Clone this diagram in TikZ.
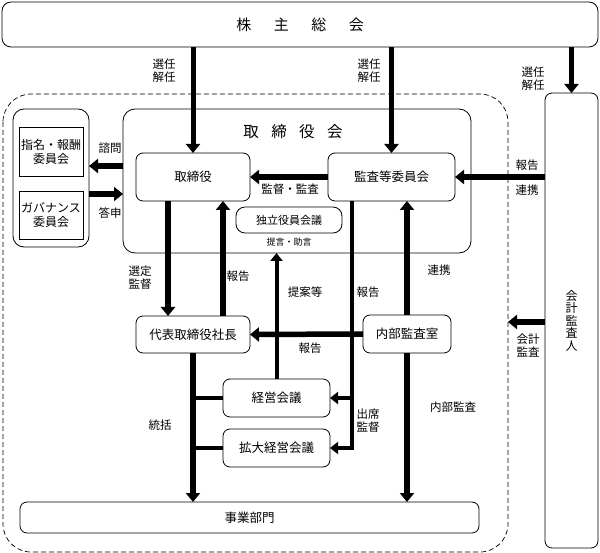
\documentclass[tikz,border=0pt]{standalone}
\usepackage{fontspec}
\setmainfont{Noto Sans CJK JP}
\usetikzlibrary{arrows.meta}

\tikzset{
  box/.style={draw, line width=0.8pt, rounded corners=7pt, inner sep=0pt, outer sep=0pt,
    font=\fontsize{12.5}{14}\selectfont},
  sqbox/.style={box, rounded corners=0pt},
  lbl/.style={font=\fontsize{11.5}{13}\selectfont, align=center, inner sep=0pt},
  thick arrow/.style={line width=5.5pt, -{Triangle[width=14pt,length=9pt]}},
  thin arrow/.style={line width=4pt, -{Triangle[width=12pt,length=8pt]}},
  bar/.style={line width=5.5pt},
  thin bar/.style={line width=4pt}
}

\begin{document}
\begin{tikzpicture}[x=1pt,y=-1pt]
\useasboundingbox (0,0) rectangle (600,553);

% Top
% General meeting of shareholders
  \node[box, rounded corners=9pt, minimum width=596pt, minimum height=45pt,
    font=\fontsize{15}{17}\selectfont] (kabu) at (300,24.5) {株\hspace{1.5em}主\hspace{1.5em}総\hspace{1.5em}会};

% Outer dashed frame
  \draw[dash pattern=on 5pt off 3pt, line width=0.7pt, rounded corners=28pt] (3,94) rectangle (508,552);

% Left
% Advisory committees
  \node[box, rounded corners=11pt, minimum width=76pt, minimum height=138pt] (iinkai) at (51,178) {};
  \node[sqbox, minimum width=64pt, minimum height=49pt, align=center,
    font=\fontsize{12}{14}\selectfont] (shimei) at (51,151.5) {指名・報酬\\委員会};
  \node[sqbox, minimum width=64pt, minimum height=48pt, align=center,
    font=\fontsize{12}{14}\selectfont] (gov) at (51,215) {ガバナンス\\委員会};

% Board of directors
  \node[box, rounded corners=12pt, minimum width=348pt, minimum height=144pt] (torikai) at (297,181) {};
  \node[font=\fontsize{15.5}{17}\selectfont] (torikaititle) at (293,132) {取\hspace{0.8em}締\hspace{0.8em}役\hspace{0.8em}会};
  \node[box, minimum width=114pt, minimum height=48pt] (tori) at (193,177) {取締役};
  \node[box, minimum width=127pt, minimum height=48pt] (kansa) at (391.5,177) {監査等委員会};
  \node[box, rounded corners=9pt, minimum width=106pt, minimum height=26pt,
    font=\fontsize{11}{12}\selectfont] (dokuritsu) at (289,220) {独立役員会議};
  \node[lbl, font=\fontsize{9}{11}\selectfont] (teigen) at (289,242) {提言・助言};

% Execution
  \node[box, minimum width=114pt, minimum height=37pt] (shacho) at (193,334.5) {代表取締役社長};
  \node[box, minimum width=88pt, minimum height=38pt] (naibu) at (407,334) {内部監査室};
  \node[box, minimum width=107pt, minimum height=38pt] (keiei) at (276.5,398) {経営会議};
  \node[box, minimum width=107pt, minimum height=38pt] (kakudai) at (276.5,448) {拡大経営会議};
  \node[box, minimum width=459pt, minimum height=31pt] (jigyo) at (249.5,517.5) {事業部門};

% Right
% Accounting auditor
  \node[box, minimum width=53pt, minimum height=455pt, align=center,
    font=\fontsize{12}{12.5}\selectfont] (kaikei) at (571.5,320.5) {会\\計\\監\\査\\人};
  \coordinate (frameedge) at (508,322);

% Connectors from the shareholders
  \draw[thick arrow, line width=5pt] (kabu.south -| tori.north) -- (tori.north);
  \draw[thick arrow, line width=5pt] (kabu.south -| kansa.north) -- (kansa.north);
  \draw[thick arrow, line width=5pt] (kabu.south -| kaikei.north) -- (kaikei.north);

% Board and committees
  \draw[thick arrow] ([yshift=12pt]iinkai.east -| torikai.west) -- ([yshift=12pt]iinkai.east);
  \draw[thick arrow] ([yshift=-16pt]iinkai.east) -- ([yshift=-16pt]iinkai.east -| torikai.west);
  \draw[thick arrow] (kansa.west) -- (tori.east);
  \draw[thick arrow] (kaikei.west |- kansa.east) -- (kansa.east);
  \draw[thick arrow] (kaikei.west |- frameedge) -- (frameedge);

% Director and president
  \draw[thick arrow] ([xshift=-25pt]tori.south) -- ([xshift=-25pt]shacho.north);
  \draw[thick arrow] ([xshift=30pt]shacho.north) -- ([xshift=30pt]tori.south);
  \draw[thin arrow] (keiei.north) -- (keiei.north |- torikai.south);

% Internal audit
  \draw[thick arrow] (naibu.west) -- (shacho.east);
  \draw[thick arrow] (naibu.north) -- (naibu.north |- kansa.south);
  \draw[thick arrow] (naibu.south) -- (naibu.south |- jigyo.north);

% Attendance and supervision
  \coordinate (shusseki) at ([xshift=-40pt]kansa.south);
  \draw[thin arrow] (shusseki) |- (kakudai.east);
  \draw[thin arrow] (shusseki |- keiei.east) -- (keiei.east);

% Control of business divisions
  \draw[thick arrow] (shacho.south) -- (shacho.south |- jigyo.north);
  \draw[thin bar] (keiei.west) -- (keiei.west -| shacho.south);
  \draw[thin bar] (kakudai.west) -- (kakudai.west -| shacho.south);

% Labels
  \node[lbl] (sennin1) at (164,71) {選任\\解任};
  \node[lbl] (sennin2) at (369,71) {選任\\解任};
  \node[lbl] (sennin3) at (533,79) {選任\\解任};
  \node[lbl] (shimon) at (110,148) {諮問};
  \node[lbl] (toshin) at (110,213) {答申};
  \node[lbl] (kantoku) at (290,189) {監督・監査};
  \node[lbl] (hokoku1) at (527,165) {報告};
  \node[lbl] (renkei1) at (527,190) {連携};
  \node[lbl] (sentei) at (140,278) {選定\\監督};
  \node[lbl] (hokoku2) at (238,276) {報告};
  \node[lbl] (teian) at (305,292) {提案等};
  \node[lbl] (hokoku3) at (368,292) {報告};
  \node[lbl] (renkei2) at (439,270) {連携};
  \node[lbl] (hokoku4) at (310,348) {報告};
  \node[lbl] (kaikeikansa) at (528,346) {会計\\監査};
  \node[lbl] (shussekikantoku) at (368,421) {出席\\監督};
  \node[lbl] (tokatsu) at (160,425) {統括};
  \node[lbl] (naibukansa) at (453,407) {内部監査};
\end{tikzpicture}
\end{document}
